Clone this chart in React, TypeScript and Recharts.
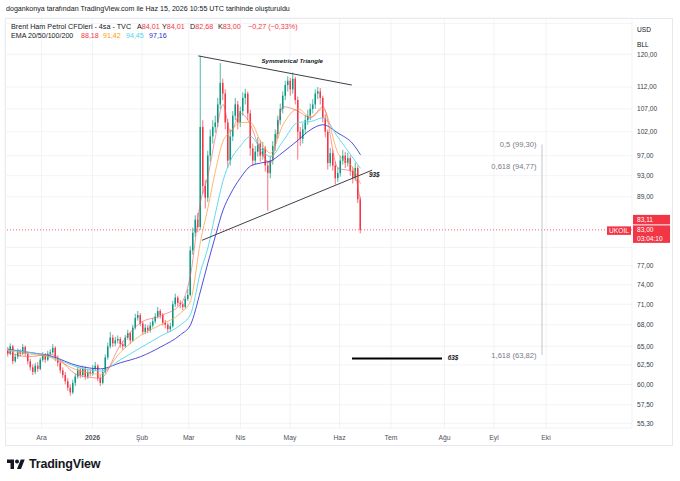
import {
  Bar,
  CartesianGrid,
  ComposedChart,
  Line,
  ReferenceDot,
  ReferenceLine,
  XAxis,
  YAxis,
} from "recharts";

const GREEN = "#089981";
const RED = "#f23645";
const grid = "#eef0f4";
const ink = "#131722";

// 4h candles, resampled (one candle ≈ one session)
const opens = [
  64.4, 64.0, 65.0, 63.0, 63.6, 64.3, 64.0, 64.9, 64.0, 63.0,
  62.2, 61.6, 62.4, 62.0, 63.2, 63.8, 63.2, 64.0, 64.2, 64.8,
  63.4, 62.8, 61.8, 61.2, 60.4, 59.6, 59.0, 60.2, 61.0, 61.9,
  61.2, 62.0, 61.0, 61.6, 61.4, 62.0, 62.4, 60.8, 60.2, 61.6,
  63.5, 65.0, 66.2, 65.4, 65.8, 66.0, 65.3, 65.0, 66.2, 66.8,
  65.8, 67.6, 69.0, 69.4, 68.2, 67.0, 67.6, 67.2, 67.9, 68.5,
  69.2, 70.0, 69.4, 68.3, 68.0, 67.4, 67.8, 71.0, 72.0, 71.2,
  71.0, 70.6, 71.8, 72.4, 79.5, 82.5, 84.8, 83.5, 103.0, 91.0,
  88.8, 97.0, 101.0, 103.0, 104.0, 108.0, 113.0, 110.5, 104.0, 96.0,
  101.0, 105.5, 108.0, 104.0, 106.5, 109.5, 110.5, 106.0, 98.5, 96.0,
  97.8, 99.5, 97.0, 98.5, 95.0, 93.5, 96.0, 99.0, 101.5, 104.5,
  107.0, 110.0, 112.5, 113.5, 111.5, 114.0, 109.0, 102.0, 100.5, 102.5,
  104.5, 105.5, 107.0, 108.0, 110.5, 111.0, 109.5, 105.0, 102.0, 95.5,
  97.5, 95.0, 92.5, 93.5, 96.0, 97.0, 95.5, 96.5, 94.0, 92.5,
  94.5, 88.5,
];
const highs = [
  64.9, 65.4, 65.2, 64.0, 64.7, 64.6, 65.3, 65.1, 64.2, 63.3,
  62.6, 62.8, 62.9, 63.5, 64.2, 64.1, 64.4, 64.6, 65.3, 65.0,
  63.8, 63.1, 62.2, 61.6, 60.8, 60.0, 60.6, 61.4, 62.3, 62.2,
  62.4, 62.3, 62.0, 62.0, 62.5, 62.9, 62.6, 61.2, 62.0, 63.9,
  65.5, 67.0, 66.6, 66.3, 66.5, 66.3, 65.7, 66.6, 67.3, 67.0,
  68.0, 69.6, 70.0, 69.7, 68.5, 68.1, 68.0, 68.4, 69.0, 69.7,
  70.6, 70.3, 69.7, 68.7, 68.3, 68.3, 71.5, 72.6, 72.3, 71.6,
  71.3, 72.2, 73.3, 80.2, 83.4, 85.6, 86.0, 119.6, 104.5, 92.2,
  98.0, 102.5, 104.5, 105.5, 109.5, 117.8, 114.0, 111.5, 104.8, 102.5,
  106.5, 109.5, 108.8, 107.5, 110.8, 111.6, 111.0, 106.8, 99.5, 99.0,
  100.8, 100.2, 99.8, 99.0, 96.0, 97.0, 100.0, 102.5, 105.5, 108.2,
  111.0, 113.5, 114.6, 114.2, 115.5, 114.5, 109.8, 103.0, 103.8, 105.6,
  106.8, 108.2, 109.2, 111.5, 112.0, 111.8, 110.0, 105.8, 102.5, 98.6,
  98.2, 95.8, 94.6, 97.0, 98.2, 97.8, 97.6, 97.0, 94.8, 95.6,
  95.0, 89.0,
];
const lows = [
  63.6, 63.8, 62.6, 62.8, 63.3, 63.6, 63.8, 63.7, 62.6, 61.8,
  61.2, 61.3, 61.6, 61.8, 62.9, 62.8, 63.0, 63.6, 63.9, 63.0,
  62.3, 61.4, 60.8, 60.0, 59.2, 58.6, 58.8, 59.8, 60.7, 60.8,
  60.9, 60.6, 60.7, 61.0, 61.1, 61.7, 60.4, 59.8, 60.0, 61.4,
  63.2, 64.7, 64.9, 65.0, 65.4, 64.8, 64.5, 64.8, 65.9, 65.3,
  65.6, 67.3, 68.6, 67.8, 66.6, 66.7, 66.8, 66.9, 67.6, 68.2,
  68.9, 68.9, 67.9, 67.5, 66.9, 67.0, 67.6, 70.6, 70.7, 70.4,
  70.1, 70.3, 71.5, 72.2, 78.8, 81.8, 82.6, 83.0, 89.5, 86.8,
  88.0, 95.8, 99.5, 101.8, 103.0, 107.0, 109.0, 102.5, 94.5, 95.0,
  100.0, 104.5, 102.5, 103.0, 105.5, 108.0, 104.5, 97.0, 95.0, 95.2,
  96.8, 95.8, 96.2, 93.8, 86.4, 92.5, 95.2, 98.0, 100.5, 103.5,
  106.0, 109.0, 111.0, 110.0, 110.5, 108.0, 96.2, 99.0, 99.5, 101.5,
  103.5, 104.5, 106.0, 107.0, 109.2, 108.0, 104.0, 100.8, 94.2, 94.8,
  94.0, 91.3, 91.8, 92.8, 95.2, 94.5, 94.8, 93.0, 91.5, 92.0,
  87.8, 82.4,
];
const closes = [
  64.0, 65.0, 63.0, 63.6, 64.3, 64.0, 64.9, 64.0, 63.0, 62.2,
  61.6, 62.4, 62.0, 63.2, 63.8, 63.2, 64.0, 64.2, 64.8, 63.4,
  62.8, 61.8, 61.2, 60.4, 59.6, 59.0, 60.2, 61.0, 61.9, 61.2,
  62.0, 61.0, 61.6, 61.4, 62.0, 62.4, 60.8, 60.2, 61.6, 63.5,
  65.0, 66.2, 65.4, 65.8, 66.0, 65.3, 65.0, 66.2, 66.8, 65.8,
  67.6, 69.0, 69.4, 68.2, 67.0, 67.6, 67.2, 67.9, 68.5, 69.2,
  70.0, 69.4, 68.3, 68.0, 67.4, 67.8, 71.0, 72.0, 71.2, 71.0,
  70.6, 71.8, 72.4, 79.5, 82.5, 84.8, 83.5, 103.0, 91.0, 88.8,
  97.0, 101.0, 103.0, 104.0, 108.0, 113.0, 110.5, 104.0, 96.0, 101.0,
  105.5, 108.0, 104.0, 106.5, 109.5, 110.5, 106.0, 98.5, 96.0, 97.8,
  99.5, 97.0, 98.5, 95.0, 93.5, 96.0, 99.0, 101.5, 104.5, 107.0,
  110.0, 112.5, 113.5, 111.5, 114.0, 109.0, 102.0, 100.5, 102.5, 104.5,
  105.5, 107.0, 108.0, 110.5, 111.0, 109.5, 105.0, 102.0, 95.5, 97.5,
  95.0, 92.5, 93.5, 96.0, 97.0, 95.5, 96.5, 94.0, 92.5, 94.5,
  88.5, 83.0,
];

// EMA readings, sampled at candle indices
const emaIdx = [0, 8, 17, 28, 37, 45, 53, 61, 69, 73, 77, 80, 83, 86, 89, 93, 97, 101, 105, 110, 116, 121, 126, 132, 138, 141];
const ema20 = [64.2, 63.6, 63.9, 61.2, 60.8, 65.2, 68.3, 69.3, 71.0, 75.5, 88.0, 93.0, 101.0, 108.0, 102.0, 106.0, 103.5, 98.0, 95.5, 107.5, 106.5, 105.0, 107.5, 94.5, 93.8, 88.18];
const ema50 = [64.4, 64.0, 63.5, 61.8, 61.3, 64.2, 66.5, 68.0, 69.7, 71.5, 81.0, 87.0, 94.0, 100.0, 102.0, 104.0, 104.0, 100.0, 97.5, 103.5, 107.0, 105.2, 107.0, 97.5, 94.5, 91.42];
const ema100 = [64.5, 64.2, 63.6, 62.2, 61.7, 63.2, 64.8, 66.4, 68.0, 69.5, 76.0, 80.0, 86.0, 92.0, 96.0, 99.0, 101.0, 98.5, 96.8, 100.0, 104.0, 104.2, 105.0, 100.8, 96.5, 94.45];
const ema200 = [64.6, 64.2, 63.7, 62.4, 62.0, 62.8, 63.6, 64.9, 66.6, 68.0, 73.0, 77.5, 82.0, 86.5, 89.5, 92.6, 94.9, 95.5, 95.9, 97.7, 100.2, 102.4, 103.5, 101.7, 99.4, 97.16];

const monthTicks = [13.4, 33.8, 53.6, 72.3, 93, 112.8, 132.6, 153.2, 174.6, 194.4, 215.2];
const monthLabels = ["Ara", "2026", "Şub", "Mar", "Nis", "May", "Haz", "Tem", "Ağu", "Eyl", "Eki"];
const priceTicks = [55.3, 57.5, 60, 62.5, 65, 68, 71, 74, 77, 80, 89, 93, 97, 102, 107, 112, 120, 128];
const hiddenTicks = [80, 128];

// header legend
const ohlcLabels = ["A", "Y", "D", "K"];
const ohlcValues = ["84,01", "84,01", "82,68", "83,00"];
const emaColors = [RED, "#ff9800", "#4fd3ea", "#2f2fd0"];

// drawings
const triUpper = [{ x: 76.1, y: 119.6 }, { x: 137.5, y: 112.5 }];
const triLower = [{ x: 77.6, y: 81.2 }, { x: 145.7, y: 94.1 }];
const target63 = [{ x: 137.6, y: 63.35 }, { x: 173.6, y: 63.35 }];
const fibRatios = ["0,5", "0,618", "1,618"];
const fibPrices = [99.3, 94.77, 63.82];
const fibX = 213.6;

const fmt = (v: number) => v.toFixed(2).replace(".", ",");
const lastPrice = closes[closes.length - 1];

const candles = opens.map((o, i) => ({
  i,
  o,
  h: highs[i],
  l: lows[i],
  c: closes[i],
  range: [lows[i], highs[i]],
}));
const emaRows = emaIdx.map((i, k) => ({
  i,
  e20: ema20[k],
  e50: ema50[k],
  e100: ema100[k],
  e200: ema200[k],
}));
const emaLast = [ema20, ema50, ema100, ema200].map((s) => s[s.length - 1]);

function Candle(props: any) {
  const { x, y, width, height, payload } = props;
  if (x == null || height == null) return null;
  const top = Math.min(y, y + height);
  const h = Math.abs(height);
  const span = Math.log(payload.h) - Math.log(payload.l) || 1;
  const py = (v: number) => top + ((Math.log(payload.h) - Math.log(v)) / span) * h;
  const color = payload.c >= payload.o ? GREEN : RED;
  const cx = x + width / 2;
  const b0 = py(Math.max(payload.o, payload.c));
  const b1 = py(Math.min(payload.o, payload.c));
  return (
    <g>
      <line x1={cx} x2={cx} y1={top} y2={top + h} stroke={color} strokeWidth={0.7} />
      <rect x={cx - 0.75} y={b0} width={1.5} height={Math.max(b1 - b0, 0.8)} fill={color} />
    </g>
  );
}

function MonthTick({ x, y, payload }: any) {
  const label = monthLabels[monthTicks.indexOf(payload.value)] ?? "";
  return (
    <text x={x} y={y + 11.5} textAnchor="middle" fontSize={6.8} fill="#50535e" fontWeight={label === "2026" ? 700 : 400}>
      {label}
    </text>
  );
}

function PriceTick({ x, y, payload }: any) {
  if (hiddenTicks.includes(payload.value)) return null;
  return (
    <text x={x} y={y} dy="0.35em" textAnchor="start" fontSize={6.6} fill="#3a3d46">
      {fmt(payload.value)}
    </text>
  );
}

function PriceBadge({ cx, cy }: any) {
  return (
    <g fontSize={6.6}>
      <rect x={cx - 25} y={cy - 3.5} width={24} height={8.5} fill={RED} />
      <text x={cx - 13} y={cy + 0.8} dy="0.35em" textAnchor="middle" fill="#fff">UKOIL</text>
      <rect x={cx + 1} y={cy - 15} width={37} height={9.5} fill={RED} />
      <text x={cx + 5} y={cy - 10.2} dy="0.35em" fill="#fff">83,11</text>
      <rect x={cx + 1} y={cy - 4.5} width={37} height={17.5} fill={RED} />
      <text x={cx + 5} y={cy} dy="0.35em" fill="#fff">{fmt(lastPrice)}</text>
      <text x={cx + 5} y={cy + 8.5} dy="0.35em" fill="#fff">03:04:10</text>
    </g>
  );
}

const noteText = (text: string, anchor: "start" | "middle" | "end", size: number, color = ink, italic = true) =>
  function Note({ cx, cy }: any) {
    return (
      <text
        x={cx}
        y={cy}
        dy="0.35em"
        textAnchor={anchor}
        fontSize={size}
        fontWeight={italic ? 700 : 400}
        fontStyle={italic ? "italic" : "normal"}
        fill={color}
      >
        {text}
      </text>
    );
  };

const abs = (left: number, top: number, extra: any = {}) => ({
  position: "absolute" as const,
  left,
  top,
  whiteSpace: "nowrap" as const,
  ...extra,
});

export default function App() {
  return (
    <div
      style={{
        position: "relative",
        width: 680,
        height: 481,
        background: "#fff",
        overflow: "hidden",
        fontFamily: '"Liberation Sans", Arial, sans-serif',
        color: ink,
      }}
    >
      <style>{"body{margin:0}"}</style>
      <div style={abs(5, 18, { width: 666, height: 426, border: "1px solid #e6e8ee" })} />
      <div style={{ position: "absolute", left: 0, top: 0 }}>
        <ComposedChart
          width={680}
          height={481}
          data={candles}
          margin={{ top: 18, right: 8, left: 5, bottom: 36 }}
        >
          <CartesianGrid stroke={grid} strokeWidth={0.8} />
          <XAxis
            dataKey="i"
            type="number"
            domain={[-1.2, 249.6]}
            allowDataOverflow
            ticks={monthTicks}
            tick={<MonthTick />}
            tickLine={false}
            axisLine={false}
            tickSize={0}
            tickMargin={0}
            height={17}
            interval={0}
          />
          <YAxis
            orientation="right"
            type="number"
            scale="log"
            domain={[54.757, 129.5]}
            allowDataOverflow
            ticks={priceTicks}
            tick={<PriceTick />}
            tickLine={false}
            axisLine={false}
            tickSize={0}
            tickMargin={5}
            width={40}
            interval={0}
          />
          <ReferenceLine y={lastPrice} stroke={RED} strokeDasharray="1 2" strokeWidth={0.8} />
          <Line data={emaRows} dataKey="e200" type="monotone" stroke="#3a3ad8" strokeWidth={0.9} dot={false} isAnimationActive={false} />
          <Line data={emaRows} dataKey="e100" type="monotone" stroke="#52d6ec" strokeWidth={0.9} dot={false} isAnimationActive={false} />
          <Line data={emaRows} dataKey="e50" type="monotone" stroke="#ffa040" strokeWidth={0.9} strokeOpacity={0.85} dot={false} isAnimationActive={false} />
          <Line data={emaRows} dataKey="e20" type="monotone" stroke="#f7525f" strokeWidth={0.8} strokeOpacity={0.75} dot={false} isAnimationActive={false} />
          <Bar dataKey="range" barSize={2} shape={<Candle />} isAnimationActive={false} />
          <ReferenceLine segment={triUpper} stroke="#3c3f48" strokeWidth={1} ifOverflow="visible" />
          <ReferenceLine segment={triLower} stroke="#3c3f48" strokeWidth={1} ifOverflow="visible" />
          <ReferenceLine segment={target63} stroke="#000" strokeWidth={2} ifOverflow="visible" />
          <ReferenceLine
            segment={[{ x: fibX, y: fibPrices[0] }, { x: fibX, y: fibPrices[2] }]}
            stroke="#c2c5cc"
            strokeWidth={1}
            ifOverflow="visible"
          />
          {fibPrices.map((p, k) => (
            <ReferenceDot
              key={k}
              x={fibX - 2.2}
              y={p}
              r={0}
              ifOverflow="visible"
              shape={noteText(`${fibRatios[k]} (${fmt(p)})`, "end", 7.6, "#787b86", false)}
            />
          ))}
          <ReferenceDot x={113.7} y={118.4} r={0} ifOverflow="visible" shape={noteText("Symmetrical Triangle", "middle", 6.1)} />
          <ReferenceDot x={144.4} y={93.2} r={0} ifOverflow="visible" shape={noteText("93$", "start", 6.4)} />
          <ReferenceDot x={175.9} y={63.5} r={0} ifOverflow="visible" shape={noteText("63$", "start", 6.4)} />
          <ReferenceDot x={249.6} y={lastPrice} r={0} ifOverflow="visible" shape={<PriceBadge />} />
        </ComposedChart>
      </div>

      <div style={abs(6, 5, { fontSize: 7.1 })}>
        dogankonya tarafından TradingView.com ile Haz 15, 2026 10:55 UTC tarihinde oluşturuldu
      </div>
      <div style={abs(11, 21.5, { fontSize: 7.2 })}>Brent Ham Petrol CFDleri - 4sa - TVC</div>
      {ohlcLabels.map((lab, k) => (
        <div key={lab} style={abs([137, 162, 190, 218][k], 21.5, { fontSize: 7.2 })}>
          {lab}
          <span style={{ color: RED }}>{ohlcValues[k]}</span>
        </div>
      ))}
      <div style={abs(248, 21.5, { fontSize: 7.2, color: RED })}>−0,27 (−0,33%)</div>
      <div style={abs(11, 31.5, { fontSize: 7.1 })}>EMA 20/50/100/200</div>
      {emaLast.map((v, k) => (
        <div key={k} style={abs([81, 103, 126, 149][k], 31.5, { fontSize: 7.1, color: emaColors[k] })}>
          {fmt(v)}
        </div>
      ))}
      <div style={abs(637, 21.5, { fontSize: 6.6, lineHeight: "15px" })}>
        USD
        <br />
        BLL
      </div>
      <div style={abs(7, 457, { display: "flex", alignItems: "center", gap: 4 })}>
        <svg width="18" height="12" viewBox="0 0 36 24">
          <path d="M14 22H7V10H0V3h14v19zM28 22h-8l7.5-19h8L28 22z" fill={ink} />
          <circle cx="20" cy="7" r="4" fill={ink} />
        </svg>
        <span style={{ fontSize: 12.5, fontWeight: 700, letterSpacing: -0.2 }}>TradingView</span>
      </div>
    </div>
  );
}
